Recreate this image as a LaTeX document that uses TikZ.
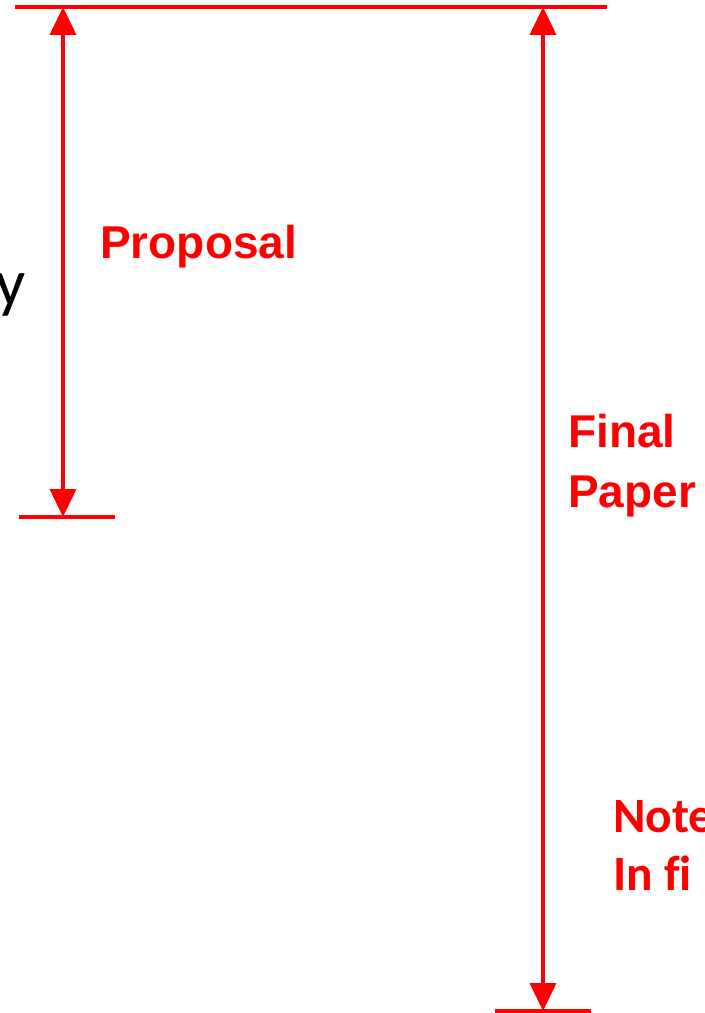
\documentclass[tikz,border=0pt]{standalone}
\usepackage{fontspec}
\setmainfont{Liberation Sans}
\newfontfamily\calfont[Ligatures=NoCommon]{Carlito}
\usetikzlibrary{arrows.meta}
\begin{document}
\begin{tikzpicture}[x=0.75pt, y=-0.75pt,
    barStyle/.style={red, line width=3pt},
    spanStyle/.style={red, line width=3pt, {Triangle[width=19.5pt, length=21pt]}-{Triangle[width=19.5pt, length=21pt]}},
    labelStyle/.style={red, anchor=base west, align=left, inner sep=0pt, font=\fontsize{34.5}{45}\selectfont\bfseries},
    noteStyle/.style={red, anchor=base west, align=left, inner sep=0pt, font=\calfont\fontsize{37}{43.5}\selectfont\bfseries}]
    \useasboundingbox (0, 0) rectangle (704, 1013);
    \clip (0, 0) rectangle (704, 1013);

    \coordinate (topL) at (15, 7);
    \coordinate (topR) at (607, 7);
    \coordinate (propTop) at (63, 7);
    \coordinate (propEnd) at (63, 517);
    \coordinate (propBarL) at (19, 517);
    \coordinate (propBarR) at (115, 517);
    \coordinate (finalTop) at (543, 7);
    \coordinate (finalEnd) at (543, 1011);
    \coordinate (finalBarL) at (495, 1011);
    \coordinate (finalBarR) at (591, 1011);

    \draw[barStyle] (topL) -- (topR);
    \draw[barStyle] (propBarL) -- (propBarR);
    \draw[barStyle] (finalBarL) -- (finalBarR);
    \draw[spanStyle] (propTop) -- (propEnd);
    \draw[spanStyle] (finalTop) -- (finalEnd);

    \node[labelStyle](proposal) at (100, 258) {Proposal};
    \node[labelStyle](final) at (568, 507) {Final\\Paper};
    \node[noteStyle](note) at (613, 890) {Note\\In fi};
    \node[anchor=base east, inner sep=0pt, font=\calfont\fontsize{50}{60}\selectfont](leftText) at (26, 305) {y};
\end{tikzpicture}
\end{document}
